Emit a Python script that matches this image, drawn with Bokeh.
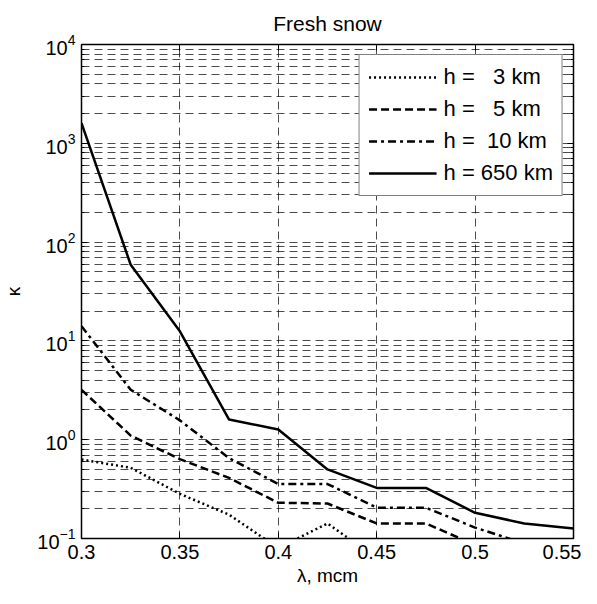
from bokeh.plotting import figure
from bokeh.models import FixedTicker, LinearAxis, Legend, LegendItem, Range1d, CustomJSTickFormatter
from bokeh.embed import file_html
from bokeh.resources import INLINE

wavelength = [0.3, 0.325, 0.35, 0.375, 0.4, 0.425, 0.45, 0.475, 0.5, 0.525, 0.55]
kappa_3km = [0.63, 0.52, 0.283, 0.174, 0.08, 0.142, 0.063, 0.05, 0.042, 0.036, 0.03]
kappa_5km = [3.2, 1.1, 0.635, 0.41, 0.23, 0.226, 0.142, 0.142, 0.086, 0.06, 0.05]
kappa_10km = [14.1, 3.2, 1.57, 0.65, 0.356, 0.356, 0.205, 0.205, 0.129, 0.089, 0.07]
kappa_650km = [1600, 59, 12.5, 1.6, 1.27, 0.50, 0.325, 0.325, 0.182, 0.142, 0.126]

series_labels = ["h =   3 km", "h =   5 km", "h =  10 km", "h = 650 km"]
x_ticks = [0.3, 0.35, 0.4, 0.45, 0.5, 0.55]
y_ticks = [1e-1, 1e0, 1e1, 1e2, 1e3, 1e4]
y_minor = [k * d for d in [1e-1, 1e0, 1e1, 1e2, 1e3] for k in range(2, 10)]
x_minor = []

FONT = "Liberation Sans"

p = figure(width=581, height=588, y_axis_type="log",
           x_range=Range1d(0.3, 0.55), y_range=Range1d(1e-1, 1e4),
           output_backend="svg", toolbar_location=None,
           min_border_left=72, min_border_right=8, min_border_top=44, min_border_bottom=40,
           title="Fresh snow")
p.title.align = "center"
p.title.text_font = FONT
p.title.text_font_size = "21px"
p.title.text_font_style = "normal"
p.title.text_color = "black"
p.title.standoff = 19

p.background_fill_color = "white"
p.outline_line_color = "black"
p.outline_line_width = 1.5

p.xaxis.ticker = FixedTicker(ticks=x_ticks, minor_ticks=x_minor)
p.yaxis.ticker = FixedTicker(ticks=y_ticks, minor_ticks=y_minor)

for ax in [p.xaxis[0], p.yaxis[0]]:
    ax.major_tick_in = 6
    ax.major_tick_out = 0
    ax.minor_tick_in = 3
    ax.minor_tick_out = 0
    ax.axis_line_color = "black"
    ax.major_label_text_font = FONT
    ax.major_label_text_font_size = "20px"
    ax.major_label_text_color = "black"
    ax.axis_label_text_font = FONT
    ax.axis_label_text_font_size = "19px"
    ax.axis_label_text_font_style = "normal"
    ax.axis_label_text_color = "black"

p.xaxis.axis_label = "λ, mcm"
p.yaxis.axis_label = "κ"
p.xaxis.major_label_standoff = 6
p.xaxis.axis_label_standoff = 3
p.yaxis.major_label_standoff = 6
p.yaxis.axis_label_standoff = 10

blank = CustomJSTickFormatter(code="return ''")
right = LinearAxis(ticker=FixedTicker(ticks=y_ticks, minor_ticks=y_minor), formatter=blank,
                   major_tick_in=6, major_tick_out=0, minor_tick_in=3, minor_tick_out=0,
                   major_label_standoff=0)
p.add_layout(right, "right")
top = LinearAxis(ticker=FixedTicker(ticks=x_ticks, minor_ticks=x_minor), formatter=blank,
                 major_tick_in=6, major_tick_out=0, minor_tick_in=3, minor_tick_out=0,
                 major_label_standoff=0)
p.add_layout(top, "above")

for g in [p.xgrid[0], p.ygrid[0]]:
    g.grid_line_color = "black"
    g.grid_line_alpha = 0.7
    g.grid_line_dash = "8 5"
p.ygrid.minor_grid_line_color = "black"
p.ygrid.minor_grid_line_alpha = 0.7
p.ygrid.minor_grid_line_dash = "8 5"

r1 = p.line(wavelength, kappa_3km, line_color="black", line_width=2.5, line_dash="2 3")
r2 = p.line(wavelength, kappa_5km, line_color="black", line_width=2.5, line_dash="8 4")
r3 = p.line(wavelength, kappa_10km, line_color="black", line_width=2.5, line_dash="8 4 3 4")
r4 = p.line(wavelength, kappa_650km, line_color="black", line_width=2.5)

legend = Legend(items=[LegendItem(label=series_labels[i], renderers=[r]) for i, r in enumerate([r1, r2, r3, r4])],
                location="top_right")
legend.border_line_color = "black"
legend.border_line_width = 1.5
legend.background_fill_color = "white"
legend.background_fill_alpha = 1
legend.label_text_font = FONT
legend.label_text_font_size = "22px"
legend.label_text_color = "black"
legend.glyph_width = 68
legend.glyph_height = 24
legend.label_height = 24
legend.spacing = 6
legend.padding = 9
legend.margin = 10
legend.label_standoff = 7
p.add_layout(legend)

open("out.html", "w").write(file_html(p, INLINE))
